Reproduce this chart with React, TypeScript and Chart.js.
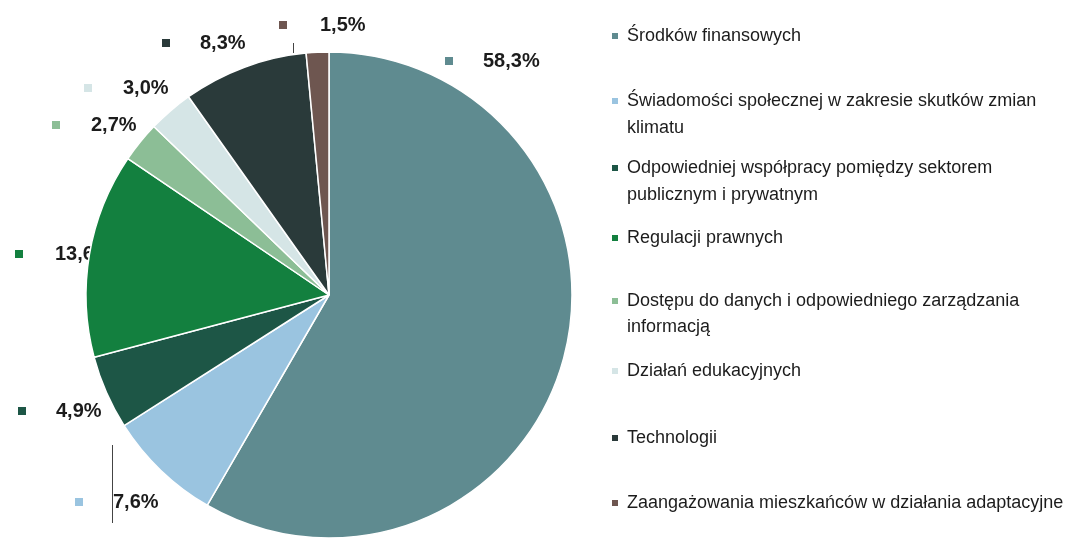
import React, { useEffect, useRef } from "react";
import { Chart, registerables } from "chart.js";

Chart.register(...registerables);

// ---- data ----
const categories = [
  "Środków finansowych",
  "Świadomości społecznej w zakresie skutków zmian klimatu",
  "Odpowiedniej współpracy pomiędzy sektorem publicznym i prywatnym",
  "Regulacji prawnych",
  "Dostępu do danych i odpowiedniego zarządzania informacją",
  "Działań edukacyjnych",
  "Technologii",
  "Zaangażowania mieszkańców w działania adaptacyjne",
];
const legendLines = [
  ["Środków finansowych"],
  ["Świadomości społecznej w zakresie skutków zmian", "klimatu"],
  ["Odpowiedniej współpracy pomiędzy sektorem", "publicznym i prywatnym"],
  ["Regulacji prawnych"],
  ["Dostępu do danych i odpowiedniego zarządzania", "informacją"],
  ["Działań edukacyjnych"],
  ["Technologii"],
  ["Zaangażowania mieszkańców w działania adaptacyjne"],
];
const values = [58.3, 7.6, 4.9, 13.6, 2.7, 3.0, 8.3, 1.5];
const valueLabels = values.map((v) => v.toFixed(1).replace(".", ",") + "%");
const colors = [
  "#5F8B90",
  "#9AC4E0",
  "#1D5646",
  "#13803F",
  "#8CBE96",
  "#D5E5E6",
  "#2A3A3A",
  "#6E5650",
];

// ---- layout (positions of outside labels and legend rows) ----
const labelLayout = [
  { mx: 449, tx: 483, y: 61 },
  { mx: 79, tx: 113, y: 502 },
  { mx: 22, tx: 56, y: 411 },
  { mx: 19, tx: 55, y: 254 },
  { mx: 56, tx: 91, y: 125 },
  { mx: 88, tx: 123, y: 88 },
  { mx: 166, tx: 200, y: 43 },
  { mx: 283, tx: 320, y: 25 },
];
const legendRowY = [[36], [101, 128], [168, 195], [238], [301, 327], [371], [438], [503]];

const labelsPlugin = {
  id: "outsideLabels",
  beforeDatasetsDraw(chart: any) {
    const ctx = chart.ctx;
    ctx.save();
    ctx.textBaseline = "middle";
    ctx.font = "bold 20px 'Liberation Sans', Arial, sans-serif";
    valueLabels.forEach((t, i) => {
      const L = labelLayout[i];
      ctx.fillStyle = colors[i];
      ctx.fillRect(L.mx - 4, L.y - 4, 8, 8);
      ctx.fillStyle = "#1c1c1c";
      ctx.fillText(t, L.tx, L.y);
    });
    // leader lines
    ctx.strokeStyle = "#444";
    ctx.lineWidth = 1;
    ctx.beginPath();
    ctx.moveTo(293.5, 43);
    ctx.lineTo(293.5, 53);
    ctx.moveTo(112.5, 445);
    ctx.lineTo(112.5, 523);
    ctx.stroke();
    ctx.restore();
  },
  afterDraw(chart: any) {
    const ctx = chart.ctx;
    ctx.save();
    ctx.textBaseline = "middle";
    ctx.font = "18px 'Liberation Sans', Arial, sans-serif";
    legendLines.forEach((lines, i) => {
      const ys = legendRowY[i];
      ctx.fillStyle = colors[i];
      ctx.fillRect(612, ys[0] - 3, 6, 6);
      ctx.fillStyle = "#1c1c1c";
      lines.forEach((ln, j) => ctx.fillText(ln, 627, ys[j]));
    });
    ctx.restore();
  },
};

export default function App() {
  const ref = useRef<HTMLCanvasElement>(null);
  useEffect(() => {
    if (!ref.current) return;
    const chart = new Chart(ref.current, {
      type: "pie",
      data: {
        labels: categories,
        datasets: [
          {
            data: values,
            backgroundColor: colors,
            borderColor: "#ffffff",
            borderWidth: 1.5,
            radius: 243,
          } as any,
        ],
      },
      options: {
        responsive: false,
        animation: false,
        layout: { padding: { left: 86, right: 499, top: 52, bottom: 4 } },
        plugins: {
          legend: { display: false },
          tooltip: { enabled: false },
        },
      },
      plugins: [labelsPlugin],
    });
    return () => chart.destroy();
  }, []);
  return (
    <div style={{ position: "fixed", left: 0, top: 0, width: 1071, height: 542, background: "#fff" }}>
      <canvas ref={ref} width={1071} height={542} style={{ display: "block" }} />
    </div>
  );
}
